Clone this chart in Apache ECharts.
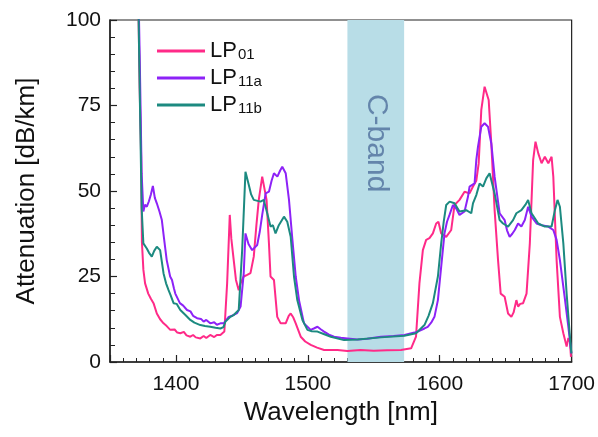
<!DOCTYPE html>
<html>
<head>
<meta charset="utf-8">
<script src="https://cdn.jsdelivr.net/npm/echarts@6/dist/echarts.min.js"></script>
<style>
  html, body { margin: 0; padding: 0; background: #fff; }
  #chart { width: 598px; height: 437px; }
</style>
</head>
<body>
<div id="chart"></div>
<script>
// Mode-resolved attenuation spectra of the fibre
const seriesNames = ['LP01', 'LP11a', 'LP11b'];
const seriesColors = ['#ff2a88', '#8d22f7', '#1c8a80'];

const lp01Wl = [1370.5, 1372.5, 1373.6, 1374.2, 1375.3, 1376.6, 1379, 1381, 1383, 1385.5, 1388, 1390.6, 1393, 1395.7, 1399, 1401, 1403.3, 1406, 1408, 1410.9, 1413, 1415, 1418.5, 1421, 1423, 1426, 1429, 1431, 1433.7, 1436.7, 1438.8, 1440.8, 1442, 1443.8, 1445.5, 1447.6, 1449, 1451.4, 1454, 1456.5, 1459, 1461, 1462.8, 1465.4, 1466.6, 1468.7, 1470.5, 1471.7, 1474.3, 1476.8, 1479.4, 1483.2, 1485.5, 1487, 1489, 1490.8, 1494.6, 1498, 1502.2, 1507, 1512.3, 1522.5, 1530, 1540, 1550, 1560, 1570.6, 1578.3, 1582, 1584.6, 1587.2, 1589.7, 1592.2, 1594.8, 1597.3, 1599, 1601.1, 1604.9, 1608.7, 1611.2, 1615, 1618.8, 1622.6, 1625.2, 1627.7, 1629.5, 1631.5, 1634, 1635.3, 1637.1, 1639.1, 1641.6, 1644.2, 1646.2, 1649.2, 1651.8, 1654.3, 1656, 1658.1, 1659.4, 1661, 1663.2, 1665.8, 1668.3, 1670.8, 1672.6, 1674.7, 1677.2, 1679.7, 1682.3, 1684.8, 1686.1, 1688.6, 1691.1, 1693.7, 1696.2, 1697.5, 1698.7, 1699.5];
const lp01Val = [130, 80, 60, 35, 27, 23, 20, 18.5, 17.2, 14.2, 12.5, 11.3, 10.5, 9.4, 9.5, 8.6, 8.4, 8.8, 7.8, 7.4, 7.9, 7.2, 6.9, 7.6, 7.0, 7.9, 7.3, 7.9, 7.9, 8.9, 23, 43, 36, 29.8, 24, 21, 23, 25, 25.5, 26, 30.8, 40, 47.4, 54.2, 54.4, 47.4, 34.7, 25, 24, 13.2, 11.3, 11.3, 13.5, 14.2, 13, 11.3, 7.4, 6, 5, 4.2, 3.5, 3.5, 3.2, 3.5, 3.3, 3.4, 3.5, 4, 7.4, 23, 32.7, 35.7, 36.2, 37.6, 40.5, 41, 37.6, 36.6, 38.6, 45.9, 47.4, 49.8, 49.3, 51.3, 53, 58, 73.7, 80.5, 81, 76.6, 63.9, 44.4, 29.8, 20, 19.1, 14.2, 13.2, 14.5, 18.1, 16.2, 17, 17.2, 20, 34.7, 59, 64.4, 61, 58.1, 60, 58.1, 60, 54.2, 29.8, 13.2, 8.4, 4.5, 7, 5.9, 1.5];

const lp11aWl = [1370.5, 1372.5, 1374, 1375.3, 1376.5, 1377.9, 1379.5, 1381, 1382.5, 1384, 1385.5, 1387.5, 1389.3, 1391, 1393, 1395.6, 1397, 1398.5, 1399.5, 1401, 1403, 1405.5, 1408.4, 1411, 1413, 1416, 1419, 1421, 1423, 1426, 1429, 1431, 1433.7, 1436.2, 1440, 1443, 1446.4, 1449, 1451.4, 1452.7, 1455, 1457.8, 1461.6, 1463.5, 1465.4, 1468, 1470.5, 1472.5, 1474.3, 1476.9, 1479, 1480.6, 1483.2, 1485.7, 1488.3, 1490.8, 1493.3, 1497.1, 1502.2, 1504.5, 1507.3, 1510, 1512.3, 1516, 1519.9, 1525, 1530, 1537.7, 1545, 1555.4, 1565, 1573.2, 1580.8, 1583.3, 1588.4, 1590.9, 1593.5, 1596, 1598.6, 1601.1, 1603.6, 1605.5, 1607.4, 1610, 1612.5, 1615, 1618.8, 1621.4, 1622.6, 1626.4, 1627.7, 1629, 1631.5, 1634, 1636.6, 1639.1, 1641.6, 1645.4, 1649.2, 1651, 1653, 1655, 1656.9, 1659.4, 1661.9, 1664.5, 1667, 1669.6, 1673.4, 1677.2, 1682.3, 1686.1, 1688.6, 1691.1, 1695, 1697.5, 1699.8];
const lp11aVal = [130, 90, 55, 44, 46, 45.4, 47, 49, 51.5, 48, 46.4, 44, 41.5, 36, 29.8, 25, 24, 21.5, 20, 20.5, 17.2, 16.5, 15.2, 14.8, 13.5, 12.8, 12.6, 11.8, 12.3, 11.3, 11.6, 10.9, 11.3, 11.3, 13.2, 13.6, 14.3, 16.2, 26, 37.6, 34.5, 32.7, 34.2, 38, 43, 49.3, 49.8, 53, 55.2, 54.2, 56, 57.1, 55.2, 47.4, 35.7, 25, 18.1, 11.3, 9.4, 9.8, 10.3, 9.5, 8.9, 8, 7.4, 7.1, 6.9, 6.6, 6.8, 7.4, 7.6, 7.9, 8.6, 8.9, 9.8, 10.3, 11.5, 13.2, 18.1, 27.9, 37.6, 41, 43, 45.9, 44.9, 43, 44, 48.3, 51.3, 52.2, 59, 63, 68.8, 69.8, 68.8, 63.9, 54.2, 43.5, 41.5, 38.5, 36.6, 37.5, 38.6, 40.5, 39.6, 41.5, 45.4, 42.5, 40.5, 40, 39.6, 38.6, 35.7, 29.8, 18.1, 10.3, 2.5];

const lp11bWl = [1370.5, 1372.5, 1374, 1375.3, 1377.9, 1379.5, 1381.7, 1383.5, 1385.5, 1388, 1390.6, 1392.5, 1394.4, 1396, 1398.2, 1400.5, 1403.3, 1407, 1410.9, 1414, 1418.5, 1422, 1426, 1430, 1433.7, 1436, 1437.5, 1441.3, 1444, 1447.6, 1450.2, 1452.7, 1455.2, 1457, 1459, 1464.1, 1466.6, 1469.2, 1471.7, 1473.5, 1475.5, 1478, 1481.9, 1484.4, 1487, 1489.5, 1492, 1495.9, 1499.7, 1503, 1507.3, 1512, 1517.4, 1527.5, 1537.7, 1555.4, 1573.2, 1582, 1588.4, 1591.5, 1594.8, 1598.6, 1601.1, 1603, 1604.9, 1607.5, 1611.2, 1615, 1620.1, 1623.9, 1625.2, 1627.7, 1630.2, 1632.8, 1635.3, 1637.8, 1639.1, 1641.6, 1645.4, 1648, 1651.8, 1655.6, 1658.1, 1661.9, 1665, 1667, 1669.6, 1674.7, 1679.7, 1684.8, 1687.3, 1689.3, 1691.1, 1693.7, 1696.2, 1698.7, 1699.8];
const lp11bVal = [130, 80, 45, 34.7, 33.2, 32, 30.8, 32.5, 33.7, 32.7, 25.9, 23, 21, 19.5, 17.2, 17, 15.2, 13.8, 12.3, 11.5, 10.8, 10.5, 10.3, 10.0, 9.8, 10.2, 11.8, 13.2, 13.8, 15.2, 32.7, 55.6, 51.8, 49, 47.4, 46.9, 47.4, 43.5, 39.6, 40, 37.6, 40, 42.5, 41, 36.6, 25, 18.1, 12.3, 9.4, 9.0, 8.9, 8.2, 7.4, 6.4, 6.6, 7.2, 7.7, 8.4, 10.8, 13.5, 17.2, 25, 34.7, 41, 45.9, 46.9, 46.4, 44, 44.4, 43.5, 46.4, 48.8, 52.2, 51.3, 53.7, 55.2, 55.2, 49.3, 41.5, 40.5, 39.6, 41.5, 43.5, 44.4, 46, 47.4, 43.5, 40.5, 39.6, 39.6, 44.4, 47.4, 45.4, 34.7, 20, 7.4, 2.5];

// C-band window [nm]
const cBand = [1530, 1573];
const cBandText = 'C-band';

// Axis ranges and tick steps
const xRange = [1350, 1700];
const yRange = [0, 100];
const yStep = 25;

const FONT = 'Liberation Sans, Arial, sans-serif';

function pairs(wl, val) {
  return wl.map((w, i) => [w, val[i]]);
}

const curves = [pairs(lp01Wl, lp01Val), pairs(lp11aWl, lp11aVal), pairs(lp11bWl, lp11bVal)];

const chart = echarts.init(document.getElementById('chart'), null, { renderer: 'canvas' });

const lineSeries = seriesNames.map((name, i) => ({
  name: name,
  type: 'line',
  data: curves[i],
  showSymbol: false,
  symbol: 'none',
  clip: true,
  z: 3,
  lineStyle: { color: seriesColors[i], width: 2 },
  itemStyle: { color: seriesColors[i] },
  animation: false
}));

chart.setOption({
  animation: false,
  backgroundColor: '#fff',
  grid: {
    left: 110, right: 26, top: 20, bottom: 75,
    show: true, borderColor: '#222', borderWidth: 1.2, backgroundColor: 'transparent'
  },
  legend: {
    data: seriesNames,
    orient: 'vertical',
    left: 152,
    top: 35,
    icon: 'rect',
    itemWidth: 48,
    itemHeight: 3,
    itemGap: 5,
    textStyle: {
      fontFamily: FONT,
      fontSize: 22,
      color: '#111',
      rich: {
        main: { fontFamily: FONT, fontSize: 22, color: '#111', lineHeight: 22, verticalAlign: 'bottom' },
        sub: { fontFamily: FONT, fontSize: 15, color: '#111', lineHeight: 19, verticalAlign: 'bottom', padding: [0, 0, 0, 1] }
      }
    },
    formatter: function (name) {
      return '{main|LP}{sub|' + name.slice(2) + '}';
    }
  },
  xAxis: {
    type: 'value',
    min: xRange[0],
    max: xRange[1],
    splitNumber: 3,
    name: 'Wavelength [nm]',
    nameLocation: 'middle',
    nameGap: 36,
    nameTextStyle: { fontFamily: FONT, fontSize: 26, color: '#111' },
    axisLine: { show: true, onZero: false, lineStyle: { color: '#222', width: 1.5 } },
    axisTick: { show: true, inside: true, length: 7, lineStyle: { color: '#222', width: 1.2 } },
    minorTick: { show: true, splitNumber: 10, length: 4, lineStyle: { color: '#222', width: 1 } },
    axisLabel: {
      fontFamily: FONT, fontSize: 21, color: '#111', margin: 12,
      formatter: function (v) { return v % 100 === 0 ? String(v) : ''; }
    },
    splitLine: { show: false }
  },
  yAxis: {
    type: 'value',
    min: yRange[0],
    max: yRange[1],
    interval: yStep,
    name: 'Attenuation [dB/km]',
    nameLocation: 'middle',
    nameGap: 70,
    nameTextStyle: { fontFamily: FONT, fontSize: 26, color: '#111' },
    axisLine: { show: true, onZero: false, lineStyle: { color: '#222', width: 1.5 } },
    axisTick: { show: true, inside: true, length: 7, lineStyle: { color: '#222', width: 1.2 } },
    minorTick: { show: true, splitNumber: 5, length: 5, lineStyle: { color: '#222', width: 1 } },
    axisLabel: { fontFamily: FONT, fontSize: 21, color: '#111', margin: 9 },
    splitLine: { show: false }
  },
  series: [
    {
      name: 'cband',
      type: 'scatter',
      data: [[(cBand[0] + cBand[1]) / 2, 64]],
      symbolSize: 0,
      z: 1,
      silent: true,
      label: {
        show: true,
        position: 'inside',
        formatter: cBandText,
        rotate: -90,
        fontFamily: FONT,
        fontSize: 30,
        color: '#4f6f9c'
      },
      markArea: {
        silent: true,
        itemStyle: { color: '#b8dde7' },
        data: [[{ xAxis: cBand[0] }, { xAxis: cBand[1] }]]
      }
    }
  ].concat(lineSeries)
});
</script>
</body>
</html>
